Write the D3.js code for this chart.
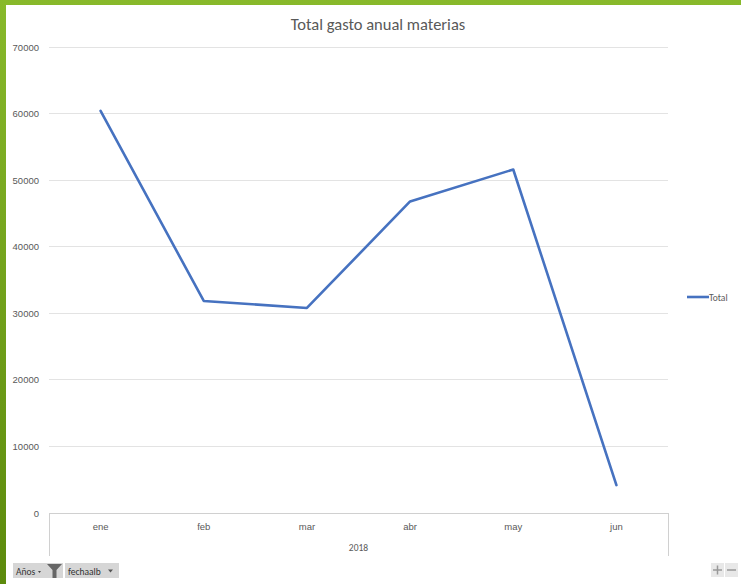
<!DOCTYPE html>
<html><head><meta charset="utf-8">
<script src="https://cdn.jsdelivr.net/npm/d3@7"></script>
<style>
html,body{margin:0;padding:0;background:#fff;}
svg{display:block;font-family:Calibri,"Carlito","Open Sans","Liberation Sans",sans-serif;}
</style></head>
<body>
<svg id="c" width="741" height="584"></svg>
<script>
const categories = ["ene","feb","mar","abr","may","jun"];
const totals = [60400, 31850, 30800, 46800, 51600, 4200];
const yTicks = [0,10000,20000,30000,40000,50000,60000,70000];
const yearLabel = "2018";
const titleText = "Total gasto anual materias";
const seriesName = "Total";

const svg = d3.select("#c");
const W = 741, H = 584;

// green frame gradient
const defs = svg.append("defs");
const g1 = defs.append("linearGradient").attr("id","gr").attr("x1",0).attr("y1",0).attr("x2",0).attr("y2",1);
g1.append("stop").attr("offset","0%").attr("stop-color","#88b92b");
g1.append("stop").attr("offset","100%").attr("stop-color","#5c8a0c");
svg.append("rect").attr("x",0).attr("y",0).attr("width",W).attr("height",H).attr("fill","url(#gr)");
svg.append("rect").attr("x",6).attr("y",5).attr("width",W-6).attr("height",H-5).attr("fill","#fff");

const x = d3.scaleBand().domain(categories).range([49,668]);
const y = d3.scaleLinear().domain([0,70000]).range([513,47]);

// gridlines
svg.append("g").selectAll("line").data(yTicks).join("line")
  .attr("x1",49).attr("x2",668).attr("y1",d=>y(d)).attr("y2",d=>y(d))
  .attr("stroke",d=>d===0?"#d0d0d0":"#e3e3e3").attr("stroke-width",1).attr("shape-rendering","crispEdges");

// y axis labels
const yAxis = d3.axisLeft(y).tickValues(yTicks).tickSize(0).tickPadding(0).tickFormat(d3.format("d"));
const ya = svg.append("g").attr("transform","translate(39,0)").call(yAxis);
ya.select(".domain").remove();
ya.selectAll("text").attr("fill","#595959").style("font-size","9.5px").attr("x",0).attr("dy","0.32em");

// x axis
const xAxis = d3.axisBottom(x).tickSize(0).tickPadding(0);
const xa = svg.append("g").attr("transform","translate(0,513)").call(xAxis);
xa.select(".domain").remove();
xa.selectAll("text").attr("fill","#595959").style("font-size","9.5px").attr("y",17).attr("dy","0");

// outer category bracket lines
svg.append("g").selectAll("line").data([49,668]).join("line")
  .attr("x1",d=>d).attr("x2",d=>d).attr("y1",513).attr("y2",556)
  .attr("stroke","#d0d0d0").attr("shape-rendering","crispEdges");

svg.append("text").attr("x",(49+668)/2).attr("y",551).attr("text-anchor","middle")
  .attr("fill","#595959").style("font-size","9.5px").text(yearLabel);

// title
svg.append("text").attr("x",378).attr("y",30).attr("text-anchor","middle")
  .attr("fill","#595959").style("font-size","16.5px").text(titleText);

// line
const line = d3.line().x((d,i)=>x(categories[i])+x.bandwidth()/2).y(d=>y(d));
svg.append("path").datum(totals).attr("d",line).attr("fill","none")
  .attr("stroke","#4672c0").attr("stroke-width",2.6).attr("stroke-linejoin","round").attr("stroke-linecap","round");

// legend
svg.append("line").attr("x1",687).attr("x2",709).attr("y1",297).attr("y2",297)
  .attr("stroke","#4672c0").attr("stroke-width",2.6);
svg.append("text").attr("x",709).attr("y",300.5).attr("fill","#595959").style("font-size","9.5px").text(seriesName);

// bottom field buttons
const btn = svg.append("g");
btn.append("rect").attr("x",13).attr("y",563).attr("width",33).attr("height",15).attr("fill","#d6d6d6");
btn.append("text").attr("x",16).attr("y",574.5).attr("fill","#333").style("font-size","9.5px").text("Años");
btn.append("path").attr("d","M38,571 l3,0 l-1.5,2 z").attr("fill","#444");
btn.append("rect").attr("x",46).attr("y",563).attr("width",17).attr("height",15).attr("fill","#d6d6d6");
btn.append("path").attr("d","M47,564 L62,564 L56.5,570 L56.5,578 L52.5,578 L52.5,570 Z").attr("fill","#666");
btn.append("rect").attr("x",65).attr("y",563).attr("width",54).attr("height",15).attr("fill","#d6d6d6");
btn.append("text").attr("x",68).attr("y",574.5).attr("fill","#333").style("font-size","9.5px").text("fechaalb");
btn.append("path").attr("d","M108,569.5 l5,0 l-2.5,3 z").attr("fill","#555");

// zoom + / -
svg.append("rect").attr("x",711).attr("y",563).attr("width",13).attr("height",14).attr("fill","#e8e8e8");
svg.append("rect").attr("x",725).attr("y",563).attr("width",13).attr("height",14).attr("fill","#e8e8e8");
svg.append("path").attr("d","M713,570 h9 M717.5,565.5 v9").attr("stroke","#999").attr("stroke-width",1.5);
svg.append("path").attr("d","M727,570 h9").attr("stroke","#999").attr("stroke-width",1.5);
</script>
</body></html>
